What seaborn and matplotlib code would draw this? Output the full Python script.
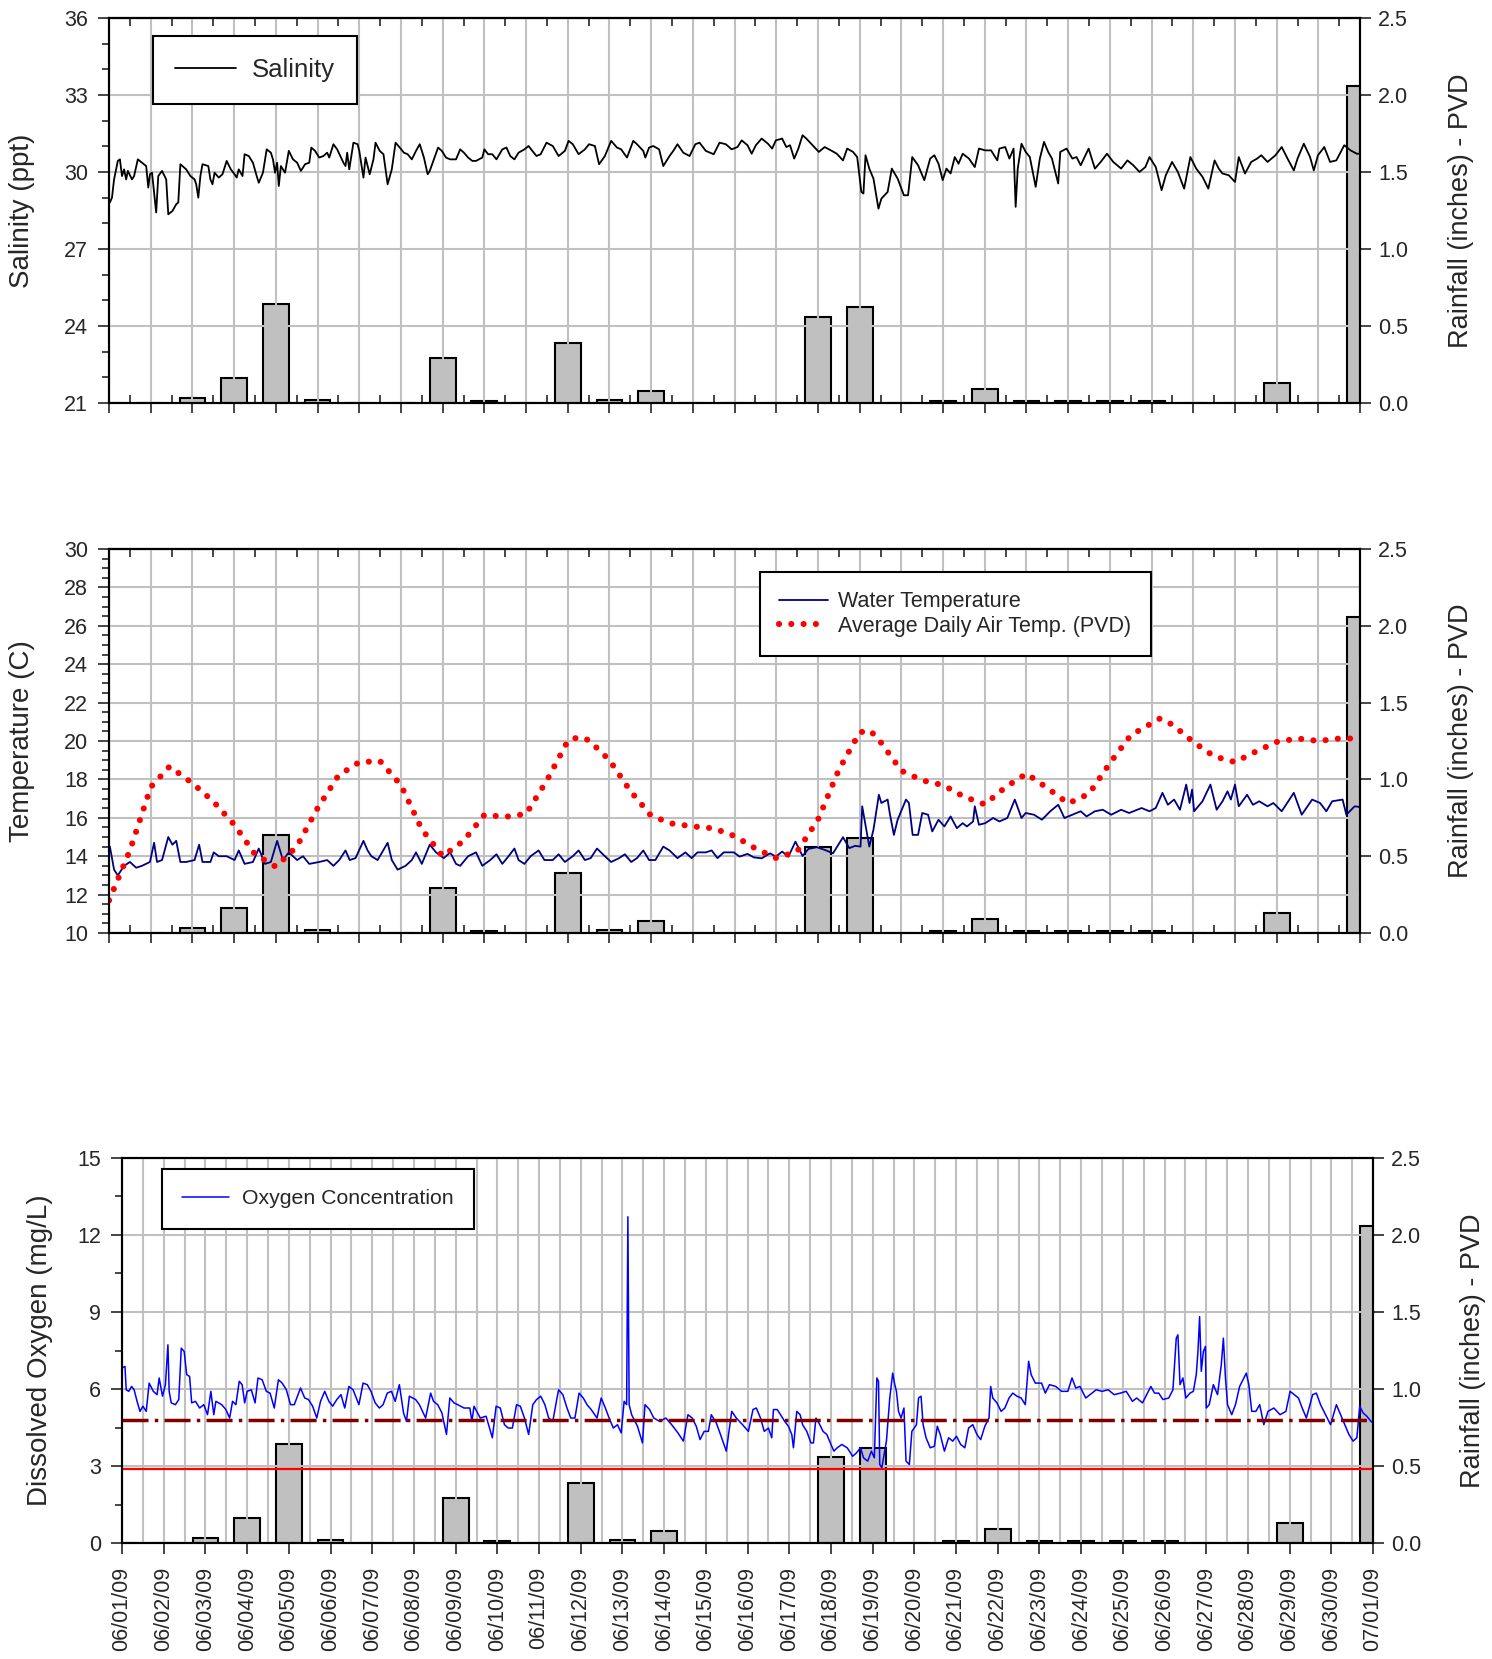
import matplotlib
matplotlib.use('Agg')
import matplotlib.pyplot as plt
from matplotlib.ticker import MultipleLocator, FormatStrFormatter
import seaborn as sns

# ---------------- data ----------------
# x values are days since 06/01/09 00:00

date_labels = ['06/01/09', '06/02/09', '06/03/09', '06/04/09', '06/05/09', '06/06/09',
               '06/07/09', '06/08/09', '06/09/09', '06/10/09', '06/11/09', '06/12/09',
               '06/13/09', '06/14/09', '06/15/09', '06/16/09', '06/17/09', '06/18/09',
               '06/19/09', '06/20/09', '06/21/09', '06/22/09', '06/23/09', '06/24/09',
               '06/25/09', '06/26/09', '06/27/09', '06/28/09', '06/29/09', '06/30/09',
               '07/01/09']

rain_day = list(range(31))
rain_in = [0, 0, 0.03, 0.16, 0.64, 0.02, 0, 0, 0.29, 0.01, 0, 0.39, 0.02, 0.08, 0, 0,
           0, 0.56, 0.62, 0, 0.015, 0.09, 0.015, 0.015, 0.015, 0.015, 0, 0, 0.13, 0, 2.06]

salinity_pts = [
    (0.00, 28.80), (0.02, 28.81), (0.07, 29.00), (0.12, 29.71), (0.21, 30.43), (0.26, 30.49),
    (0.31, 29.84), (0.36, 30.10), (0.41, 29.71), (0.45, 30.04), (0.55, 29.71), (0.60, 29.84),
    (0.69, 30.49), (0.79, 30.36), (0.89, 30.23), (0.94, 29.39), (0.98, 29.91), (1.03, 29.97),
    (1.08, 29.19), (1.13, 28.42), (1.18, 29.84), (1.27, 30.04), (1.37, 29.71), (1.42, 28.35),
    (1.52, 28.48), (1.61, 28.74), (1.66, 28.81), (1.71, 30.30), (1.76, 30.23), (1.85, 30.10),
    (1.95, 29.84), (2.05, 29.71), (2.09, 29.52), (2.14, 29.00), (2.19, 29.84), (2.24, 30.30),
    (2.38, 30.23), (2.43, 29.71), (2.48, 29.52), (2.53, 29.97), (2.63, 29.78), (2.72, 29.91),
    (2.82, 30.43), (2.92, 30.10), (3.01, 29.91), (3.06, 29.78), (3.11, 30.10), (3.20, 29.84),
    (3.25, 30.69), (3.35, 30.62), (3.45, 30.36), (3.54, 29.84), (3.59, 29.58), (3.69, 29.97),
    (3.78, 30.88), (3.88, 30.75), (3.93, 30.49), (3.98, 29.97), (4.03, 30.36), (4.07, 29.45),
    (4.12, 30.23), (4.22, 29.97), (4.31, 30.82), (4.41, 30.49), (4.51, 30.36), (4.60, 30.04),
    (4.70, 30.30), (4.80, 30.36), (4.85, 30.95), (4.94, 30.82), (5.04, 30.56), (5.14, 30.62),
    (5.23, 30.75), (5.28, 30.56), (5.38, 31.08), (5.47, 30.88), (5.62, 30.36), (5.67, 30.23),
    (5.71, 30.75), (5.76, 30.10), (5.86, 31.14), (5.96, 31.08), (6.00, 30.82), (6.10, 29.78),
    (6.15, 30.56), (6.25, 29.91), (6.34, 30.49), (6.39, 31.14), (6.49, 30.82), (6.58, 30.69),
    (6.68, 29.52), (6.78, 30.10), (6.87, 31.14), (6.97, 30.95), (7.07, 30.75), (7.16, 30.69),
    (7.26, 30.49), (7.36, 30.82), (7.45, 31.08), (7.55, 30.56), (7.64, 29.91), (7.69, 30.04),
    (7.79, 30.49), (7.89, 30.95), (7.98, 30.82), (8.08, 30.56), (8.18, 30.49), (8.32, 30.49),
    (8.42, 30.88), (8.51, 30.75), (8.61, 30.56), (8.71, 30.43), (8.80, 30.43), (8.95, 30.56),
    (9.00, 30.88), (9.09, 30.69), (9.19, 30.69), (9.29, 30.49), (9.43, 30.88), (9.53, 30.95),
    (9.62, 30.62), (9.72, 30.49), (9.82, 30.75), (9.96, 30.88), (10.06, 31.01), (10.15, 30.82),
    (10.25, 30.62), (10.35, 30.69), (10.49, 31.14), (10.64, 31.01), (10.78, 30.62), (10.93, 30.82),
    (11.02, 31.21), (11.12, 31.08), (11.26, 30.69), (11.41, 30.88), (11.51, 31.08), (11.65, 31.01),
    (11.75, 30.30), (11.89, 30.62), (12.04, 31.21), (12.18, 30.95), (12.28, 30.88), (12.42, 30.56),
    (12.57, 31.21), (12.66, 31.08), (12.81, 30.82), (12.86, 30.56), (12.95, 30.95), (13.05, 31.01),
    (13.19, 30.88), (13.29, 30.23), (13.44, 30.62), (13.53, 30.82), (13.63, 31.08), (13.77, 30.75),
    (13.92, 30.62), (14.06, 31.08), (14.16, 31.14), (14.31, 30.82), (14.50, 30.69), (14.64, 31.14),
    (14.79, 31.08), (14.93, 30.88), (15.07, 30.97), (15.17, 31.23), (15.31, 31.04), (15.41, 30.71),
    (15.51, 31.04), (15.65, 31.30), (15.80, 31.10), (15.90, 30.91), (15.99, 31.23), (16.14, 31.30),
    (16.24, 30.97), (16.33, 31.04), (16.43, 30.52), (16.53, 30.91), (16.63, 31.43), (16.72, 31.30),
    (16.87, 31.04), (17.02, 30.78), (17.16, 30.97), (17.31, 30.84), (17.45, 30.71), (17.60, 30.45),
    (17.70, 30.91), (17.84, 30.78), (17.94, 30.58), (18.04, 29.22), (18.09, 29.16), (18.14, 30.65),
    (18.23, 30.13), (18.33, 29.74), (18.45, 28.57), (18.52, 28.96), (18.67, 29.22), (18.77, 30.13),
    (18.91, 29.74), (19.06, 29.09), (19.16, 29.09), (19.26, 30.58), (19.40, 30.26), (19.55, 29.68),
    (19.69, 30.52), (19.79, 30.65), (19.89, 30.32), (19.99, 29.68), (20.08, 30.13), (20.18, 29.94),
    (20.28, 30.58), (20.37, 30.32), (20.47, 30.71), (20.62, 30.52), (20.76, 30.19), (20.86, 30.91),
    (21.01, 30.84), (21.15, 30.84), (21.30, 30.45), (21.35, 30.91), (21.49, 30.97), (21.59, 30.52),
    (21.69, 30.91), (21.74, 28.64), (21.79, 30.13), (21.88, 31.10), (21.98, 30.78), (22.08, 30.58),
    (22.22, 29.42), (22.32, 30.52), (22.42, 31.17), (22.52, 30.78), (22.61, 30.52), (22.76, 29.55),
    (22.81, 30.78), (22.96, 30.91), (23.10, 30.52), (23.20, 30.58), (23.30, 30.26), (23.49, 30.91),
    (23.64, 30.13), (23.78, 30.39), (23.93, 30.71), (24.08, 30.39), (24.27, 30.13), (24.42, 30.45),
    (24.56, 30.26), (24.71, 30.00), (24.85, 30.19), (24.95, 30.58), (25.10, 30.19), (25.24, 29.29),
    (25.34, 29.87), (25.49, 30.39), (25.63, 30.00), (25.78, 29.35), (25.93, 30.58), (26.07, 30.13),
    (26.22, 29.81), (26.36, 29.35), (26.51, 30.45), (26.61, 30.13), (26.70, 29.94), (26.85, 29.87),
    (27.00, 29.61), (27.09, 30.58), (27.24, 29.94), (27.39, 30.39), (27.53, 30.52), (27.63, 30.65),
    (27.78, 30.39), (27.97, 30.65), (28.12, 30.97), (28.26, 30.52), (28.41, 30.06), (28.50, 30.52),
    (28.65, 31.10), (28.80, 30.58), (28.89, 30.06), (28.99, 30.65), (29.14, 30.97), (29.28, 30.39),
    (29.43, 30.45), (29.62, 31.04), (29.77, 30.84), (29.92, 30.71), (30.00, 30.71),
]

water_temp_pts = [
    (0.00, 14.5), (0.02, 14.5), (0.12, 13.3), (0.21, 13.0), (0.36, 13.5), (0.50, 13.7), (0.65, 13.4),
    (0.79, 13.5), (0.98, 13.7), (1.08, 14.7), (1.15, 13.7), (1.27, 13.8), (1.42, 15.0), (1.52, 14.6),
    (1.61, 14.8), (1.71, 13.7), (1.85, 13.7), (2.05, 13.8), (2.16, 14.6), (2.24, 13.7), (2.43, 13.7),
    (2.51, 14.2), (2.63, 14.0), (2.82, 14.0), (3.01, 13.8), (3.11, 14.3), (3.25, 13.6), (3.45, 13.7),
    (3.59, 14.4), (3.74, 13.6), (3.88, 13.7), (4.03, 14.8), (4.17, 13.8), (4.31, 14.2), (4.51, 13.8),
    (4.65, 14.0), (4.80, 13.6), (5.04, 13.7), (5.23, 13.8), (5.38, 13.5), (5.52, 13.8), (5.67, 14.3),
    (5.77, 13.8), (5.91, 13.9), (6.10, 14.8), (6.20, 14.3), (6.29, 14.0), (6.44, 13.8), (6.68, 14.7),
    (6.78, 13.8), (6.92, 13.3), (7.11, 13.5), (7.26, 13.8), (7.36, 14.2), (7.50, 13.6), (7.69, 14.6),
    (7.84, 14.2), (8.03, 13.9), (8.18, 14.2), (8.32, 13.6), (8.42, 13.5), (8.61, 14.0), (8.80, 14.2),
    (8.95, 13.5), (9.14, 13.8), (9.29, 14.1), (9.43, 13.6), (9.58, 14.0), (9.72, 14.4), (9.82, 13.8),
    (9.96, 13.6), (10.11, 14.0), (10.30, 14.3), (10.44, 13.8), (10.64, 13.8), (10.78, 14.1),
    (10.93, 13.7), (11.12, 14.0), (11.26, 14.3), (11.41, 13.8), (11.55, 13.9), (11.70, 14.4),
    (11.89, 14.0), (12.04, 13.7), (12.23, 13.9), (12.37, 14.1), (12.52, 13.7), (12.66, 13.9),
    (12.81, 14.3), (12.95, 13.8), (13.10, 13.8), (13.29, 14.5), (13.44, 14.3), (13.63, 13.9),
    (13.82, 14.2), (13.97, 13.9), (14.11, 14.2), (14.31, 14.2), (14.45, 14.3), (14.59, 13.9),
    (14.74, 14.2), (14.98, 14.2), (15.12, 13.98), (15.31, 14.12), (15.46, 13.94), (15.65, 13.89),
    (15.85, 14.15), (15.99, 13.98), (16.14, 14.24), (16.29, 13.98), (16.46, 14.76), (16.63, 14.01),
    (16.77, 14.38), (16.97, 14.47), (17.16, 14.33), (17.36, 14.15), (17.60, 14.99), (17.75, 14.42),
    (17.89, 14.54), (18.02, 14.50), (18.06, 16.60), (18.23, 14.50), (18.33, 15.38), (18.46, 17.20),
    (18.52, 16.77), (18.67, 16.95), (18.72, 16.25), (18.82, 15.11), (18.91, 15.90), (19.11, 16.95),
    (19.18, 16.77), (19.27, 15.11), (19.40, 15.11), (19.50, 16.25), (19.64, 16.16), (19.74, 15.29),
    (19.89, 15.90), (20.03, 15.55), (20.18, 16.07), (20.33, 15.46), (20.47, 15.72), (20.57, 15.55),
    (20.72, 15.81), (20.76, 16.60), (20.86, 15.64), (21.01, 15.72), (21.20, 15.99), (21.35, 15.81),
    (21.54, 15.99), (21.72, 16.95), (21.88, 15.99), (21.98, 16.25), (22.18, 16.16), (22.37, 15.90),
    (22.57, 16.34), (22.76, 16.68), (22.91, 15.99), (23.10, 16.16), (23.30, 16.34), (23.44, 16.07),
    (23.64, 16.34), (23.83, 16.42), (24.03, 16.16), (24.27, 16.42), (24.46, 16.25), (24.76, 16.51),
    (24.95, 16.34), (25.10, 16.51), (25.26, 17.30), (25.39, 16.68), (25.54, 16.95), (25.68, 16.42),
    (25.83, 17.73), (25.91, 16.77), (25.97, 17.47), (26.02, 16.34), (26.22, 16.86), (26.41, 17.73),
    (26.56, 16.42), (26.70, 16.86), (26.82, 17.38), (26.90, 16.95), (27.00, 17.73), (27.09, 16.60),
    (27.29, 17.20), (27.43, 16.68), (27.58, 16.86), (27.78, 16.60), (27.92, 16.77), (28.12, 16.34),
    (28.41, 17.30), (28.60, 16.16), (28.85, 16.95), (29.04, 16.77), (29.19, 16.34), (29.33, 16.86),
    (29.58, 16.95), (29.67, 16.16), (29.87, 16.60), (30.00, 16.56),
]

air_temp_pts = [
    (0.0, 11.7), (0.5, 14.3), (1.0, 17.6), (1.45, 18.67), (2.0, 17.8), (2.5, 16.85), (3.0, 15.65),
    (3.5, 14.1), (4.0, 13.45), (4.5, 14.5), (5.0, 16.5), (5.5, 18.2), (6.0, 18.9), (6.5, 18.95),
    (7.0, 17.7), (7.5, 15.4), (8.0, 14.0), (8.5, 14.8), (9.0, 16.15), (9.5, 16.05), (10.0, 16.2),
    (10.5, 17.95), (11.0, 20.0), (11.25, 20.2), (11.5, 20.05), (12.0, 19.0), (12.5, 17.4),
    (13.0, 16.1), (13.5, 15.7), (14.0, 15.55), (14.5, 15.45), (15.0, 15.05), (15.5, 14.4),
    (16.0, 13.9), (16.5, 14.25), (17.0, 15.9), (17.5, 18.5), (18.0, 20.45), (18.25, 20.55),
    (18.5, 19.95), (19.0, 18.45), (19.5, 17.95), (20.0, 17.7), (20.5, 17.1), (21.0, 16.7),
    (21.5, 17.6), (22.0, 18.3), (22.5, 17.55), (23.0, 16.75), (23.5, 17.25), (24.0, 18.85),
    (24.5, 20.3), (25.2, 21.17), (25.5, 20.85), (26.0, 19.95), (26.5, 19.2), (27.0, 18.9),
    (27.5, 19.45), (28.0, 19.95), (28.5, 20.13), (29.0, 20.0), (29.5, 20.13), (29.8, 20.13),
]

oxygen_pts = [
    (0.00, 6.82), (0.07, 6.88), (0.10, 5.97), (0.16, 5.91), (0.23, 6.10), (0.29, 5.97), (0.36, 5.52),
    (0.43, 5.13), (0.50, 5.33), (0.58, 5.13), (0.65, 6.23), (0.75, 5.91), (0.84, 5.78), (0.89, 6.43),
    (0.97, 5.72), (1.04, 6.17), (1.10, 7.72), (1.13, 5.91), (1.18, 5.46), (1.28, 5.39), (1.36, 5.59),
    (1.42, 7.59), (1.49, 7.46), (1.55, 6.56), (1.62, 6.49), (1.67, 5.46), (1.76, 5.52), (1.86, 5.26),
    (1.96, 5.39), (2.05, 5.00), (2.13, 5.91), (2.20, 5.00), (2.25, 5.52), (2.39, 5.39), (2.49, 5.20),
    (2.58, 4.87), (2.65, 5.52), (2.73, 5.39), (2.81, 6.30), (2.88, 6.17), (2.94, 5.46), (3.00, 5.91),
    (3.10, 5.97), (3.19, 5.46), (3.26, 6.43), (3.36, 6.36), (3.46, 5.91), (3.55, 5.84), (3.65, 5.26),
    (3.75, 6.36), (3.84, 6.23), (3.94, 5.97), (4.04, 5.39), (4.13, 5.39), (4.28, 6.04), (4.38, 5.65),
    (4.47, 5.59), (4.57, 5.33), (4.67, 4.87), (4.76, 5.52), (4.86, 5.91), (4.96, 5.52), (5.05, 5.33),
    (5.15, 5.59), (5.25, 5.78), (5.34, 5.26), (5.44, 6.10), (5.54, 5.97), (5.68, 5.39), (5.78, 6.23),
    (5.88, 6.17), (5.97, 5.91), (6.07, 5.46), (6.17, 5.26), (6.26, 5.39), (6.36, 5.84), (6.46, 5.91),
    (6.55, 5.52), (6.65, 6.17), (6.75, 5.07), (6.82, 4.74), (6.89, 5.72), (7.04, 5.59), (7.13, 5.39),
    (7.28, 4.87), (7.40, 5.84), (7.47, 5.52), (7.57, 5.39), (7.67, 5.07), (7.78, 4.23), (7.86, 5.65),
    (7.96, 5.46), (8.05, 5.39), (8.20, 5.26), (8.34, 5.26), (8.39, 4.74), (8.44, 5.33), (8.59, 4.87),
    (8.73, 4.94), (8.88, 4.10), (8.97, 5.33), (9.07, 5.26), (9.17, 4.61), (9.26, 4.48), (9.36, 4.48),
    (9.46, 5.39), (9.55, 5.33), (9.65, 4.87), (9.75, 4.23), (9.85, 5.39), (9.94, 5.59), (10.04, 5.72),
    (10.14, 5.39), (10.23, 4.87), (10.33, 4.74), (10.43, 5.65), (10.47, 5.97), (10.57, 5.78),
    (10.67, 5.26), (10.76, 4.87), (10.86, 4.87), (10.96, 5.84), (11.06, 5.65), (11.15, 5.39),
    (11.25, 5.20), (11.39, 4.87), (11.49, 5.65), (11.59, 5.26), (11.68, 4.87), (11.78, 4.48),
    (11.88, 4.61), (11.97, 4.29), (12.04, 5.52), (12.10, 5.39), (12.13, 12.71), (12.16, 5.39),
    (12.22, 5.00), (12.36, 4.55), (12.48, 3.90), (12.54, 5.39), (12.65, 5.20), (12.75, 4.87),
    (12.89, 4.74), (13.04, 4.87), (13.18, 4.61), (13.33, 4.29), (13.46, 3.97), (13.57, 5.00),
    (13.67, 4.87), (13.77, 4.55), (13.86, 4.03), (13.96, 4.35), (14.06, 4.35), (14.13, 5.00),
    (14.25, 4.68), (14.35, 4.23), (14.49, 3.58), (14.62, 5.13), (14.73, 4.87), (14.88, 4.61),
    (15.02, 4.35), (15.13, 5.20), (15.21, 5.26), (15.31, 4.87), (15.40, 4.35), (15.50, 4.48),
    (15.58, 4.10), (15.62, 5.20), (15.71, 5.20), (15.79, 5.00), (15.89, 4.74), (15.98, 4.55),
    (16.06, 4.23), (16.10, 3.71), (16.18, 5.13), (16.26, 5.00), (16.32, 4.61), (16.42, 4.35),
    (16.52, 3.90), (16.58, 3.90), (16.64, 4.87), (16.71, 4.68), (16.81, 4.35), (16.90, 4.23),
    (17.00, 3.84), (17.07, 3.58), (17.15, 3.71), (17.26, 3.84), (17.39, 3.71), (17.52, 3.38),
    (17.61, 3.51), (17.71, 3.71), (17.78, 3.32), (17.88, 3.19), (17.97, 3.58), (18.04, 3.32),
    (18.10, 6.43), (18.14, 6.30), (18.17, 3.06), (18.22, 2.93), (18.26, 3.32), (18.33, 3.97),
    (18.41, 5.65), (18.48, 6.62), (18.53, 6.17), (18.57, 5.91), (18.62, 5.13), (18.68, 4.87),
    (18.75, 5.26), (18.80, 3.19), (18.88, 3.06), (18.94, 4.35), (19.05, 4.61), (19.10, 5.65),
    (19.16, 5.72), (19.21, 4.61), (19.28, 4.10), (19.38, 3.71), (19.48, 3.77), (19.55, 4.55),
    (19.62, 4.23), (19.72, 3.58), (19.82, 4.10), (19.92, 3.97), (20.01, 4.16), (20.11, 3.84),
    (20.21, 3.71), (20.30, 4.48), (20.40, 4.61), (20.50, 4.23), (20.59, 4.03), (20.69, 4.55),
    (20.79, 4.87), (20.83, 6.10), (20.88, 5.65), (20.98, 5.46), (21.08, 5.13), (21.17, 5.26),
    (21.27, 5.65), (21.36, 5.84), (21.46, 5.72), (21.56, 5.65), (21.66, 5.39), (21.74, 7.08),
    (21.80, 6.56), (21.90, 6.23), (22.05, 6.23), (22.14, 5.84), (22.24, 6.17), (22.39, 6.10),
    (22.53, 5.91), (22.68, 5.91), (22.78, 6.43), (22.87, 6.04), (22.97, 6.10), (23.11, 5.65),
    (23.21, 5.78), (23.36, 5.97), (23.50, 5.91), (23.65, 5.97), (23.79, 5.78), (23.94, 5.84),
    (24.08, 5.91), (24.23, 5.52), (24.33, 5.65), (24.47, 5.46), (24.57, 5.78), (24.67, 6.10),
    (24.76, 5.84), (24.86, 5.84), (24.96, 5.59), (25.10, 5.65), (25.20, 5.97), (25.28, 7.98),
    (25.32, 8.11), (25.37, 6.17), (25.44, 6.43), (25.51, 5.65), (25.61, 5.84), (25.69, 5.91),
    (25.76, 6.56), (25.80, 7.46), (25.84, 8.82), (25.88, 6.69), (25.93, 7.46), (25.98, 7.66),
    (26.00, 5.26), (26.07, 5.39), (26.17, 6.17), (26.27, 5.78), (26.36, 6.95), (26.41, 7.98),
    (26.46, 6.43), (26.51, 5.39), (26.61, 5.00), (26.70, 5.39), (26.80, 6.10), (26.90, 6.43),
    (26.96, 6.62), (27.02, 6.17), (27.09, 5.13), (27.19, 5.13), (27.28, 5.39), (27.38, 4.61),
    (27.48, 5.13), (27.62, 5.26), (27.77, 5.00), (27.91, 5.13), (28.01, 5.91), (28.11, 5.78),
    (28.21, 5.65), (28.30, 5.26), (28.40, 4.87), (28.55, 5.78), (28.64, 5.84), (28.74, 5.39),
    (28.88, 4.94), (28.98, 4.61), (29.12, 5.39), (29.22, 5.00), (29.32, 4.61), (29.42, 4.23),
    (29.52, 3.97), (29.61, 4.10), (29.68, 5.33), (29.76, 5.07), (29.85, 4.94), (29.95, 4.74),
    (30.00, 4.68),
]

do_chronic = 4.8   # dash-dot reference line
do_acute = 2.9     # solid red reference line

sal_day, sal_val = zip(*salinity_pts)
wt_day, wt_val = zip(*water_temp_pts)
at_day, at_val = zip(*air_temp_pts)
ox_day, ox_val = zip(*oxygen_pts)

# ---------------- style ----------------
sns.set_style('ticks')
plt.rcParams['font.family'] = ['Liberation Sans', 'DejaVu Sans']
GRID = '#C0C0C0'
TICK_FS = 15.5


def add_rain(ax, right_label_x):
    rax = ax.twinx()
    rax.bar(rain_day, rain_in, width=0.62, color='#C0C0C0', edgecolor='black', linewidth=1.5)
    rax.set_ylim(0, 2.5)
    rax.yaxis.set_major_locator(MultipleLocator(0.5))
    rax.yaxis.set_major_formatter(FormatStrFormatter('%.1f'))
    rax.tick_params(axis='y', which='major', right=True, direction='out', length=8,
                    width=1.2, labelsize=TICK_FS, pad=5)
    rax.set_ylabel('Rainfall (inches) - PVD', fontsize=19.5)
    rax.yaxis.set_label_coords(right_label_x, 0.5)
    rax.grid(False)
    for sp in rax.spines.values():
        sp.set_color('black')
        sp.set_linewidth(1.5)
    # lines above the bars
    ax.set_zorder(rax.get_zorder() + 1)
    ax.patch.set_visible(False)
    return rax


def style_main(ax, ylabel, left_label_x):
    for sp in ax.spines.values():
        sp.set_color('black')
        sp.set_linewidth(1.5)
    ax.set_xlim(0, 30)
    ax.set_ylabel(ylabel, fontsize=20)
    ax.yaxis.set_label_coords(left_label_x, 0.5)
    ax.tick_params(axis='y', which='major', left=True, right=False, direction='out',
                   length=8, width=1.2, labelsize=TICK_FS, pad=7)
    ax.tick_params(axis='y', which='minor', left=True, right=False, direction='out',
                   length=5, width=1.2)


def top_panel_xaxis(ax):
    ax.xaxis.set_major_locator(MultipleLocator(1))
    ax.xaxis.set_minor_locator(MultipleLocator(0.5))
    ax.tick_params(axis='x', which='major', bottom=True, top=False, direction='out',
                   length=7, width=1.2, labelbottom=False)
    ax.tick_params(axis='x', which='minor', bottom=True, top=False, direction='in',
                   length=6, width=1.2)
    sec = ax.secondary_xaxis('top')
    sec.xaxis.set_major_locator(MultipleLocator(0.5))
    sec.tick_params(axis='x', direction='in', length=6, width=1.2, labeltop=False)
    sec.spines['top'].set_linewidth(1.5)
    ax.grid(True, which='major', color=GRID, linewidth=1.5)


def boxed_legend(ax, anchor, fs, hl, htp, bpad, lspace=0.3):
    leg = ax.legend(loc='upper left', bbox_to_anchor=anchor, fontsize=fs, frameon=True,
                    fancybox=False, framealpha=1, edgecolor='black', borderpad=bpad,
                    handlelength=hl, handletextpad=htp, borderaxespad=0,
                    labelspacing=lspace)
    leg.get_frame().set_linewidth(1.5)
    return leg


fig = plt.figure(figsize=(14.92, 16.59), dpi=100)
ax1 = fig.add_axes([0.0731, 0.7571, 0.8385, 0.2321])
ax2 = fig.add_axes([0.0731, 0.4376, 0.8385, 0.2315])
ax3 = fig.add_axes([0.0818, 0.0699, 0.8385, 0.2321])

# ---------------- panel 1: salinity ----------------
add_rain(ax1, 1.070)
sns.lineplot(x=list(sal_day), y=list(sal_val), ax=ax1, color='black', linewidth=1.3,
             estimator=None, label='Salinity')
ax1.set_ylim(21, 36)
ax1.yaxis.set_major_locator(MultipleLocator(3))
ax1.yaxis.set_minor_locator(MultipleLocator(1))
style_main(ax1, 'Salinity (ppt)', -0.059)
top_panel_xaxis(ax1)
ax1.set_xlabel('')
boxed_legend(ax1, (0.035, 0.953), 18.5, 2.4, 0.6, 0.85)

# ---------------- panel 2: temperature ----------------
add_rain(ax2, 1.070)
sns.lineplot(x=list(wt_day), y=list(wt_val), ax=ax2, color='#000080', linewidth=1.3,
             estimator=None, label='Water Temperature')
sns.lineplot(x=list(at_day), y=list(at_val), ax=ax2, color='#FF0000', linewidth=4.4,
             estimator=None, label='Average Daily Air Temp. (PVD)')
air_line = ax2.lines[-1]
air_line.set_linestyle((0, (0.01, 2.0)))
air_line.set_dash_capstyle('round')
ax2.set_ylim(10, 30)
ax2.yaxis.set_major_locator(MultipleLocator(2))
ax2.yaxis.set_minor_locator(MultipleLocator(0.5))
style_main(ax2, 'Temperature (C)', -0.059)
top_panel_xaxis(ax2)
ax2.set_xlabel('')
boxed_legend(ax2, (0.520, 0.940), 15.5, 2.3, 0.45, 0.9, lspace=0.15)

# ---------------- panel 3: dissolved oxygen ----------------
add_rain(ax3, 1.0695)
sns.lineplot(x=list(ox_day), y=list(ox_val), ax=ax3, color='#0000FF', linewidth=1.1,
             estimator=None, label='Oxygen Concentration')
ax3.axhline(do_acute, color='#FF0000', linewidth=1.6)
ax3.axhline(do_chronic, color='#800000', linewidth=2.5, linestyle=(0, (7.5, 1.8, 1, 1.8)))
ax3.set_ylim(0, 15)
ax3.yaxis.set_major_locator(MultipleLocator(3))
ax3.yaxis.set_minor_locator(MultipleLocator(1.5))
style_main(ax3, 'Dissolved Oxygen (mg/L)', -0.055)
ax3.set_xticks(rain_day)
ax3.set_xticklabels(date_labels, rotation=90, fontsize=TICK_FS)
ax3.xaxis.set_minor_locator(MultipleLocator(0.5))
ax3.tick_params(axis='x', which='major', bottom=True, top=False, direction='out',
                length=8, width=1.2, pad=9)
ax3.tick_params(axis='x', which='minor', bottom=False, top=False)
ax3.set_xlim(0, 30)
ax3.grid(True, which='major', axis='y', color=GRID, linewidth=1.5)
ax3.grid(True, which='both', axis='x', color=GRID, linewidth=1.5)
ax3.set_xlabel('')
boxed_legend(ax3, (0.032, 0.971), 15.3, 2.2, 0.6, 0.95)

fig.savefig('out.png', dpi=100)
